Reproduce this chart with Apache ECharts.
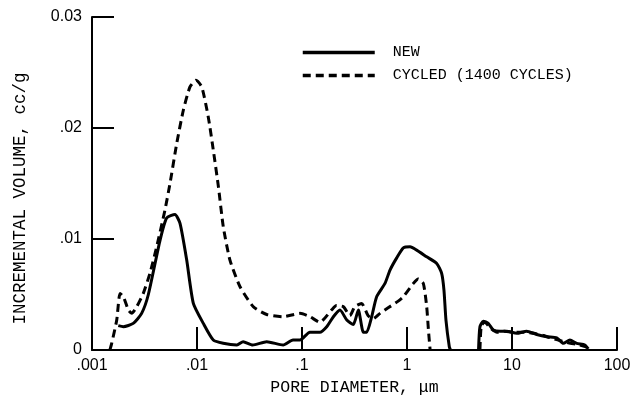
<!DOCTYPE html>
<html>
<head>
<meta charset="utf-8">
<script src="https://cdn.jsdelivr.net/npm/echarts@6/dist/echarts.min.js"></script>
<style>
  html, body { margin: 0; padding: 0; background: #fff; }
  #chart { width: 633px; height: 402px; }
</style>
</head>
<body>
<div id="chart"></div>
<script>
// pore diameter (um) / incremental volume (cc/g)
const newDiam = [0.00178, 0.00199, 0.00247, 0.00297, 0.00344, 0.00445, 0.00514, 0.00617, 0.00689, 0.00798,
  0.00923, 0.01148, 0.01429, 0.01778, 0.0240, 0.0275, 0.0339, 0.0461, 0.0661, 0.0820,
  0.0957, 0.119, 0.148, 0.172, 0.199, 0.230, 0.267, 0.308, 0.344, 0.384,
  0.413, 0.461, 0.514, 0.617, 0.689, 0.798, 0.923, 1.069, 1.236, 1.538,
  1.919, 2.138, 2.249, 2.350, 2.529, 2.6, 3.5, 4.8, 4.95, 5.33,
  5.94, 6.64, 7.69, 8.91, 11.1, 13.8, 17.2, 21.4, 26.7, 30.8,
  35.6, 41.3, 49.5, 53.3];
const newVol = [0.0022, 0.0021, 0.0024, 0.0033, 0.0050, 0.0099, 0.0119, 0.0122, 0.0114, 0.0081,
  0.0042, 0.0024, 0.0009, 0.0006, 0.00045, 0.00075, 0.00045, 0.00075, 0.00045, 0.0009,
  0.0009, 0.0016, 0.0016, 0.0021, 0.0030, 0.0036, 0.0027, 0.0023, 0.0036, 0.0016,
  0.0016, 0.0030, 0.0048, 0.0060, 0.0072, 0.0083, 0.0092, 0.0093, 0.0090, 0.0084,
  0.0078, 0.0069, 0.0054, 0.0027, 0.0003, 0, '-', 0, 0.0021, 0.0026,
  0.0024, 0.0018, 0.0017, 0.0017, 0.0015, 0.0017, 0.0014, 0.0012, 0.0011, 0.0006,
  0.0009, 0.0006, 0.00045, 0.0001];

const cycDiam = [0.00148, 0.00154, 0.00172, 0.00185, 0.00199, 0.00222, 0.00239, 0.00267, 0.00308, 0.00356,
  0.00413, 0.00495, 0.00553, 0.00641, 0.00741, 0.00857, 0.00977, 0.0111, 0.0128, 0.0143,
  0.0160, 0.0178, 0.0206, 0.0257, 0.0344, 0.0461, 0.0664, 0.0957, 0.119, 0.148,
  0.191, 0.213, 0.248, 0.286, 0.318, 0.369, 0.426, 0.473, 0.553, 0.661,
  0.825, 0.923, 1.15, 1.28, 1.43, 1.54, 1.60, 1.66, 3.0, 4.95,
  5.1, 5.5, 6.2, 7.2, 8.5, 10.5, 13, 16, 20, 25,
  30, 36, 42, 50, 55];
const cycVol = [0, 0.0006, 0.0027, 0.0051, 0.0048, 0.0036, 0.0033, 0.0039, 0.0051, 0.0069,
  0.0093, 0.0126, 0.0150, 0.0186, 0.0216, 0.0237, 0.0243, 0.0237, 0.0210, 0.0180,
  0.0147, 0.0111, 0.0081, 0.0057, 0.0039, 0.0032, 0.0030, 0.0033, 0.0030, 0.0025,
  0.0036, 0.0040, 0.0039, 0.0031, 0.0039, 0.0042, 0.0031, 0.0028, 0.0033, 0.0038,
  0.0044, 0.0048, 0.0060, 0.0064, 0.0060, 0.0039, 0.0018, 0, '-', 0,
  0.0022, 0.0025, 0.0020, 0.0016, 0.0017, 0.0016, 0.0016, 0.0015, 0.0013, 0.0010,
  0.0008, 0.0006, 0.0005, 0.0003, 0];

const xTicks = [0.001, 0.01, 0.1, 1, 10, 100];
const xTickLabels = ['.001', '.01', '.1', '1', '10', '100'];
const yTicks = [0, 0.01, 0.02, 0.03];
const yTickLabels = ['0', '.01', '.02', '0.03'];

const monoFont = '"Liberation Mono", "DejaVu Sans Mono", monospace';
const sansFont = '"Liberation Sans", Arial, sans-serif';

const chart = echarts.init(document.getElementById('chart'));

function pairs(xs, ys) {
  return xs.map((x, i) => [x, ys[i]]);
}

function xLabel(v) {
  let best = 0;
  xTicks.forEach((t, i) => {
    if (Math.abs(Math.log10(v) - Math.log10(t)) < Math.abs(Math.log10(v) - Math.log10(xTicks[best]))) best = i;
  });
  return xTickLabels[best];
}

function yLabel(v) {
  let best = 0;
  yTicks.forEach((t, i) => {
    if (Math.abs(v - t) < Math.abs(v - yTicks[best])) best = i;
  });
  return yTickLabels[best];
}

const option = {
  animation: false,
  backgroundColor: '#fff',
  grid: {
    left: 92,
    right: 16,
    top: 17,
    bottom: 52,
    outerBoundsMode: 'none'
  },
  legend: {
    orient: 'vertical',
    left: 296,
    top: 40,
    itemWidth: 72,
    itemHeight: 14,
    itemGap: 8,
    data: ['NEW', 'CYCLED (1400 CYCLES)'],
    itemStyle: { opacity: 0, borderWidth: 0 },
    lineStyle: { width: 3.5 },
    textStyle: {
      fontFamily: monoFont,
      fontSize: 15,
      color: '#000',
      padding: [0, 0, 0, 13]
    }
  },
  xAxis: {
    type: 'log',
    logBase: 10,
    min: 0.001,
    max: 100,
    name: 'PORE DIAMETER, \u03bcm',
    nameLocation: 'middle',
    nameGap: 28,
    nameTextStyle: { fontFamily: monoFont, fontSize: 16.5, color: '#000' },
    axisLine: { lineStyle: { color: '#000', width: 2 } },
    axisTick: { inside: true, length: 23, lineStyle: { color: '#000', width: 2 } },
    minorTick: { show: false },
    splitLine: { show: false },
    axisLabel: {
      fontFamily: sansFont,
      fontSize: 16,
      color: '#000',
      margin: 8,
      formatter: xLabel
    }
  },
  yAxis: {
    type: 'value',
    min: 0,
    max: 0.03,
    interval: 0.01,
    name: 'INCREMENTAL VOLUME, cc/g',
    nameLocation: 'middle',
    nameRotate: 90,
    nameGap: 63,
    nameTextStyle: { fontFamily: monoFont, fontSize: 17.5, color: '#000', padding: [0, 30, 0, 0] },
    axisLine: { show: true, lineStyle: { color: '#000', width: 2 } },
    axisTick: { show: true, inside: true, length: 22, lineStyle: { color: '#000', width: 2 } },
    splitLine: { show: false },
    axisLabel: {
      fontFamily: sansFont,
      fontSize: 16,
      color: '#000',
      margin: 10,
      formatter: yLabel
    }
  },
  series: [
    {
      name: 'NEW',
      type: 'line',
      data: pairs(newDiam, newVol),
      symbol: 'none',
      smooth: 0.2,
      connectNulls: false,
      lineStyle: { color: '#000', width: 3, type: 'solid' },
      itemStyle: { color: '#000' }
    },
    {
      name: 'CYCLED (1400 CYCLES)',
      type: 'line',
      data: pairs(cycDiam, cycVol),
      symbol: 'none',
      smooth: 0.2,
      connectNulls: false,
      lineStyle: { color: '#000', width: 3, type: [8, 5] },
      itemStyle: { color: '#000' }
    }
  ]
};

chart.setOption(option);
</script>
</body>
</html>
